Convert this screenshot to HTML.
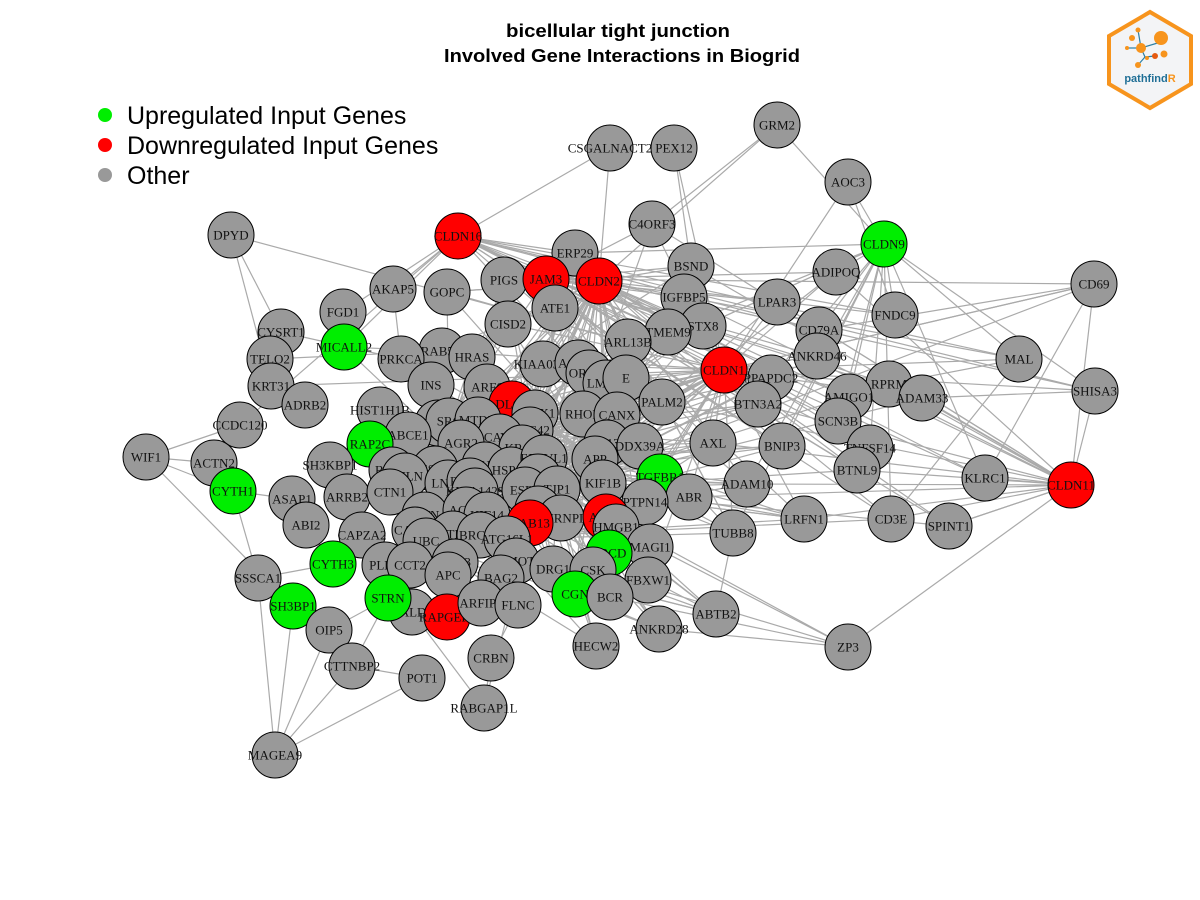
<!DOCTYPE html>
<html><head><meta charset="utf-8"><style>
html,body{margin:0;padding:0;background:#fff;}
svg{display:block;}
.lbl{font-family:"Liberation Serif",serif;font-size:13px;fill:#111;text-anchor:middle;dominant-baseline:central;}
</style></head><body>
<svg id="chart" width="1200" height="900" viewBox="0 0 1200 900" xmlns="http://www.w3.org/2000/svg">
<rect width="1200" height="900" fill="#fff"/>
<text x="618" y="37" text-anchor="middle" font-family="Liberation Sans, sans-serif" font-weight="bold" font-size="18" textLength="224" lengthAdjust="spacingAndGlyphs">bicellular tight junction</text>
<text x="622" y="62" text-anchor="middle" font-family="Liberation Sans, sans-serif" font-weight="bold" font-size="18" textLength="356" lengthAdjust="spacingAndGlyphs">Involved Gene Interactions in Biogrid</text>
<g font-family="Liberation Sans, sans-serif" font-size="25">
 <g><circle cx="105" cy="115" r="7" fill="#00ee00"/><text x="127" y="124">Upregulated Input Genes</text></g>
 <g><circle cx="105" cy="145" r="7" fill="#ff0000"/><text x="127" y="154">Downregulated Input Genes</text></g>
 <g><circle cx="105" cy="175" r="7" fill="#999"/><text x="127" y="184">Other</text></g>
</g>
<g>
 <polygon points="1150,12 1191,36 1191,84 1150,108 1109,84 1109,36" fill="#f3f4f6" stroke="#f7941d" stroke-width="4"/>
 <g stroke="#2a7fa5" stroke-width="1.2"><line x1="1141" y1="48" x2="1161" y2="42"/><line x1="1141" y1="48" x2="1127" y2="48"/><line x1="1141" y1="48" x2="1138" y2="30"/><line x1="1141" y1="48" x2="1145" y2="57"/><line x1="1145" y1="57" x2="1138" y2="65"/><line x1="1145" y1="57" x2="1155" y2="56"/></g>
 <circle cx="1161" cy="38" r="7" fill="#f7941d"/><circle cx="1141" cy="48" r="5" fill="#f7941d"/><circle cx="1138" cy="30" r="2.5" fill="#f7941d"/><circle cx="1132" cy="38" r="3" fill="#f7941d"/><circle cx="1127" cy="48" r="2" fill="#f7941d"/><circle cx="1155" cy="56" r="3" fill="#e55a10"/><circle cx="1164" cy="54" r="3.5" fill="#f7941d"/><circle cx="1138" cy="65" r="3" fill="#f7941d"/><circle cx="1147" cy="58" r="2" fill="#f7941d"/>
 <text x="1150" y="82" text-anchor="middle" font-family="Liberation Sans, sans-serif" font-weight="bold" font-size="11" fill="#1f6f96">pathfind<tspan fill="#f7941d">R</tspan></text>
</g>
<g id="edges"></g>
<g id="nodes"></g>
</svg>
<script>
const nodeNames=["CSGALNACT2","PEX12","GRM2","AOC3","CLDN9","CD69","DPYD","CLDN16","ERP29","C4ORF3","BSND","ADIPOQ","PIGS","JAM3","CLDN2","AKAP5","GOPC","IGFBP5","LPAR3","FNDC9","FGD1","ATE1","CISD2","STX8","CD79A","CYSRT1","TMEM9","ARL13B","MAL","TELO2","MICALL2","RAB5A","PRKCA","HRAS","KIAA0368","ACSL3","ORF7B","LMNA","E","CLDN1","ANKRD46","PPAPDC2","RPRM","SHISA3","KRT31","INS","ARF6","AMIGO1","ADAM33","ADRB2","HIST1H1B","DLG1","APEX1","RHOB","CANX","PALM2","BTN3A2","SCN3B","CCDC120","CALM1","SRC","MTDH","ABCE1","CDC42","CAV1","KRAS","KIF13B","DDX39A","AXL","BNIP3","TNFSF14","RAP2C","WIF1","ACTN2","SH3KBP1","AGR2","ESR1","CUL","HSPA8","ELAVL1","APP","BTRC","ANLN","LNX1","PARK2","RAC1","TGFBR1","ADAM10","BTNL9","KLRC1","CLDN11","CYTH1","ASAP1","ARRB2","CTN1","KIAA1429","ESR2","TJP1","KIF1B","ABR","PTPN14","LRFN1","CD3E","SPINT1","ABI2","ACTN4","ACTR","KIF14","TRIM25","HNRNPL","ANK3","HMGB1","TUBB8","RAB13","CAPZA2","CAPZB","BTF3","BRCA1","ATG16L1","MAGI1","UBC","CYTH3","PLEC","CCT2","CCT3","APC","AMOT","TBCD","DRG1","CSK","FBXW1","SSSCA1","BAG2","SH3BP1","CALD1","STRN","RAPGEF2","ARFIP2","FLNC","CGN","BCR","ABTB2","OIP5","ANKRD28","HECW2","ZP3","CRBN","CTTNBP2","POT1","RABGAP1L","MAGEA9"];
const nodeX=[610,674,777,848,884,1094,231,458,575,652,691,836,504,546,599,393,447,684,777,895,343,555,508,703,819,281,668,628,1019,270,344,442,401,472,543,578,589,606,626,724,817,771,889,1095,271,431,487,849,922,305,380,512,535,583,617,662,758,838,240,438,449,478,408,530,500,522,607,640,713,782,870,370,146,214,330,461,435,485,511,544,595,392,405,448,470,538,660,747,857,985,1071,233,292,347,390,475,525,557,603,689,645,804,891,949,306,425,466,487,538,561,606,616,733,530,362,415,453,480,507,650,426,333,385,410,455,448,516,609,553,593,648,258,501,293,412,388,447,481,518,575,610,716,329,659,596,848,491,352,422,484,275];
const nodeY=[148,148,125,182,244,284,235,236,253,224,266,272,280,279,281,289,292,297,302,315,312,308,324,326,330,332,332,342,359,359,347,351,359,357,364,363,373,383,378,370,356,378,384,391,386,385,387,397,398,405,410,404,413,414,415,402,404,421,425,423,421,420,435,430,437,448,443,446,443,446,448,444,457,463,465,443,469,465,470,458,459,470,476,483,481,477,477,484,470,478,485,491,499,497,492,491,490,489,483,497,502,519,519,526,525,515,510,515,509,518,517,527,533,523,535,530,534,535,539,547,541,564,565,565,562,575,561,553,569,570,580,578,578,606,612,598,617,603,605,594,597,614,630,629,646,647,658,666,678,708,755];
const nodeType=["o","o","o","o","u","o","o","d","o","o","o","o","o","d","d","o","o","o","o","o","o","o","o","o","o","o","o","o","o","o","u","o","o","o","o","o","o","o","o","d","o","o","o","o","o","o","o","o","o","o","o","d","o","o","o","o","o","o","o","o","o","o","o","o","o","o","o","o","o","o","o","u","o","o","o","o","o","o","o","o","o","o","o","o","o","o","u","o","o","o","d","u","o","o","o","o","o","o","o","o","o","o","o","o","o","o","o","o","o","o","d","o","o","d","o","o","o","o","o","o","o","u","o","o","o","o","o","u","o","o","o","o","o","u","o","u","d","o","o","u","o","o","o","o","o","o","o","o","o","o","o"];
const hubs=["UBC","TJP1","CLDN1","ESR1","KRAS","APP","ELAVL1","HSPA8","CLDN2","RAC1","CDC42","SRC"];
const rightHubs=["CLDN1","CLDN2","TJP1","CLDN9","CLDN11","CLDN16","JAM3"];
const rightNodes=["ADIPOQ","FNDC9","LPAR3","CD79A","ANKRD46","PPAPDC2","RPRM","AMIGO1","ADAM33","SCN3B","BTN3A2","TNFSF14","BTNL9","ADAM10","LRFN1","CD3E","SPINT1","KLRC1","AXL","BNIP3","ABR","TUBB8","PALM2","STX8","IGFBP5","TMEM9","BSND","MAL","CD69","SHISA3","C4ORF3","ERP29"];
const extraEdges=["WIF1-CCDC120","WIF1-CYTH1","WIF1-SH3BP1","WIF1-ACTN2","MAGEA9-SH3BP1","MAGEA9-OIP5","MAGEA9-CTTNBP2","MAGEA9-POT1","MAGEA9-SSSCA1","ZP3-HMGB1","ZP3-CLDN11","ZP3-BCR","ZP3-ANKRD28","ZP3-CSK","DPYD-CYSRT1","DPYD-ARL13B","DPYD-KRT31","GRM2-CLDN9","GRM2-C4ORF3","GRM2-CLDN2","PEX12-CLDN1","PEX12-BSND","CSGALNACT2-CLDN2","CSGALNACT2-CLDN16","AOC3-CLDN9","AOC3-CLDN1","AOC3-FNDC9","CD69-CLDN1","CD69-CD79A","CD69-KLRC1","MAL-CLDN1","MAL-CD3E","MAL-RPRM","SHISA3-CLDN11","SHISA3-ADAM33","SHISA3-CLDN1","CLDN11-KLRC1","CLDN11-CD3E","CLDN11-SPINT1","CLDN11-ADAM10","CLDN9-ADIPOQ","CLDN9-STX8","CLDN16-JAM3","CLDN16-MICALL2","CLDN16-AKAP5","ABTB2-TUBB8","ABTB2-CSK","HECW2-TJP1","RABGAP1L-RAB13","RABGAP1L-CRBN","RABGAP1L-CALD1","POT1-CTTNBP2","CRBN-FLNC","SSSCA1-CYTH3","SSSCA1-CYTH1","TELO2-RAB5A","TELO2-ADRB2","MICALL2-RAB13","MICALL2-RAB5A","ACTN2-CYTH1","ASAP1-CYTH1","ABI2-CYTH3","STRN-CALD1","SH3BP1-OIP5","OIP5-STRN","CTTNBP2-STRN","GOPC-CLDN2","PIGS-JAM3","ATE1-JAM3","CISD2-CLDN2","ARL13B-CLDN2","FGD1-CLDN16","AKAP5-PRKCA","CYSRT1-PRKCA","KRT31-CLDN1","CCDC120-CLDN16","ANKRD28-CGN","ANKRD28-TJP1","AXL-TGFBR1","KIF13B-CLDN2","DDX39A-CLDN1","ABTB2-TJP1","ANKRD28-UBC","ABTB2-UBC","ZP3-TJP1","TUBB8-UBC","ADAM10-TJP1","LRFN1-UBC","CD3E-UBC","ABR-UBC"];
const edgeG=document.getElementById('edges'),nodeG=document.getElementById('nodes');
const NS="http://www.w3.org/2000/svg";
const idx={};nodeNames.forEach((n,i)=>idx[n]=i);
const pairs=[];
extraEdges.forEach(e=>{const p=e.split('-');pairs.push([p[0],p[1]]);});
rightNodes.forEach((n,i)=>{rightHubs.forEach((h,k)=>{ if((i+k)%2===0) pairs.push([n,h]); });});
nodeNames.forEach((n,i)=>{
  const dx=nodeX[i]-600,dy=nodeY[i]-450;
  if(Math.sqrt(dx*dx+dy*dy)<230){
    hubs.forEach((h,k)=>{ if(h!==n && (i+k)%3===0) pairs.push([n,h]); });
  }
});
pairs.forEach(p=>{
  const a=idx[p[0]],b=idx[p[1]];
  if(a===undefined||b===undefined||a===b)return;
  const l=document.createElementNS(NS,'line');
  
  
  l.setAttribute('x1',nodeX[a]);l.setAttribute('y1',nodeY[a]);
  l.setAttribute('x2',nodeX[b]);l.setAttribute('y2',nodeY[b]);
  l.setAttribute('stroke','#aaaaaa');l.setAttribute('stroke-width','1.2');
  edgeG.appendChild(l);
});
const colors={u:"#00ee00",d:"#ff0000",o:"#999999"};
nodeNames.forEach((n,i)=>{
  const g=document.createElementNS(NS,'g');
  
  
  const c=document.createElementNS(NS,'circle');
  c.setAttribute('cx',nodeX[i]);c.setAttribute('cy',nodeY[i]);c.setAttribute('r',23);
  c.setAttribute('fill',colors[nodeType[i]]);c.setAttribute('stroke','#000');c.setAttribute('stroke-width','1');
  g.appendChild(c);
  const t=document.createElementNS(NS,'text');
  t.setAttribute('x',nodeX[i]);t.setAttribute('y',nodeY[i]);t.setAttribute('class','lbl');
  t.textContent=n;
  g.appendChild(t);
  nodeG.appendChild(g);
});
</script>
</body></html>
